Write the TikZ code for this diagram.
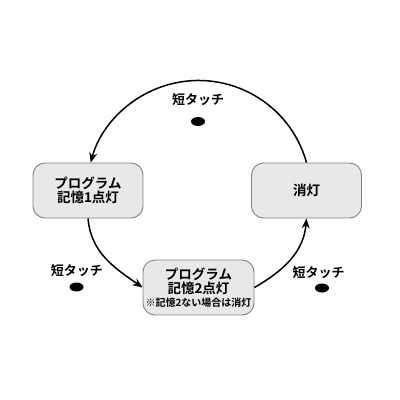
\documentclass[tikz,border=0pt]{standalone}
\usepackage{fontspec}
\setmainfont{Noto Sans CJK JP}[BoldFont={Noto Sans CJK JP Bold}]
\usetikzlibrary{arrows.meta,shapes.geometric}
\definecolor{boxfill}{HTML}{E8E8E8}
\definecolor{boxline}{HTML}{808080}
\tikzset{
  statebox/.style={draw=boxline, line width=0.9pt, fill=boxfill, rounded corners=12pt,
    minimum width=110pt, minimum height=55pt, inner sep=0pt, align=center,
    font=\fontsize{13.5}{14}\selectfont\bfseries},
  touchlabel/.style={font=\fontsize{13}{14}\selectfont\bfseries, inner sep=0pt},
  touchdot/.style={ellipse, fill=black, minimum width=14pt, minimum height=9pt, inner sep=0pt},
  conn/.style={line width=1.5pt, -{Stealth[length=10pt,width=8pt]}}
}
\begin{document}
\begin{tikzpicture}[x=1pt,y=-1pt]
\useasboundingbox (0,0) rectangle (400,400);
\node[statebox] (l) at (88,190.5) {プログラム\\記憶1点灯};
\node[statebox] (r) at (306.5,190.5) {消灯};
\node[statebox, minimum width=111pt] (b) at (198.5,287.5) {プログラム\\記憶2点灯\\[-1pt]{\fontsize{10}{11}\selectfont ※記憶2ない場合は消灯}};
\node[touchlabel] (t1) at (198,100) {短タッチ};
\node[touchdot] (d1) at (198,121.5) {};
\node[touchlabel] (t2) at (77,271) {短タッチ};
\node[touchdot] (d2) at (76.5,287) {};
\node[touchlabel] (t3) at (318.5,273) {短タッチ};
\node[touchdot] (d3) at (322,288) {};
\draw[conn] (r.north) arc[start angle=-15.5, end angle=-164.5, radius=112];
\draw[conn] (l.south) to[out=-85, in=145] (b.west);
\draw[conn] (b.east) to[out=30, in=-95] (r.south);
\end{tikzpicture}
\end{document}
